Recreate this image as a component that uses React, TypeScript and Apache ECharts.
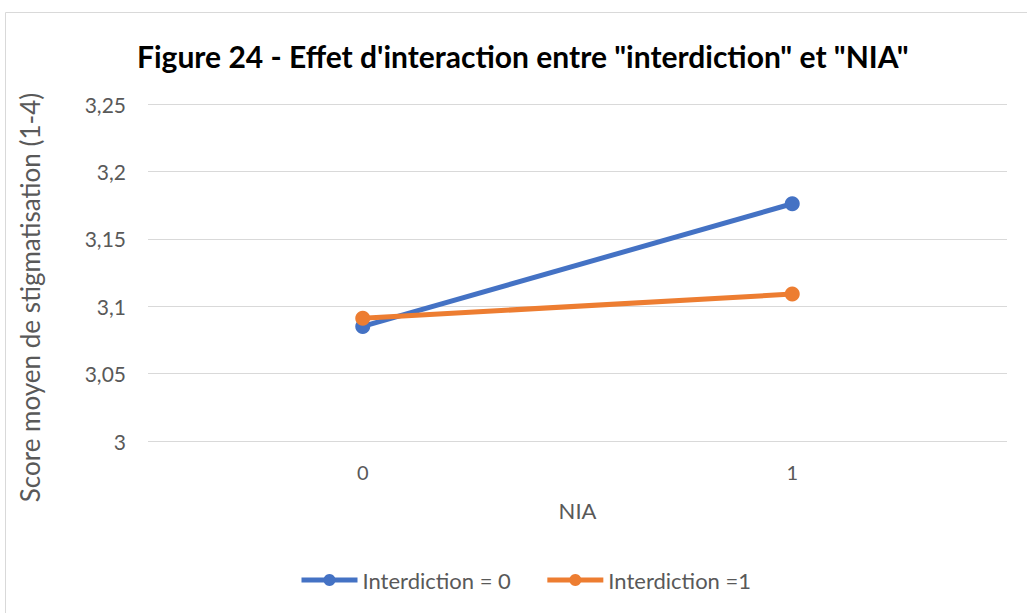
import React, { useEffect, useRef } from "react";
import * as echarts from "echarts";

const categories = ["0", "1"];
const interdiction0 = [3.085, 3.176];
const interdiction1 = [3.091, 3.109];
const seriesNames = ["Interdiction = 0", "Interdiction =1"];

export default function App() {
  const ref = useRef<HTMLDivElement>(null);
  useEffect(() => {
    const chart = echarts.init(ref.current!, null, { renderer: "svg" });
    const font = "Lato, Open Sans, sans-serif";
    chart.setOption({
      animation: false,
      backgroundColor: "#ffffff",
      title: {
        text: 'Figure 24 - Effet d\'interaction entre "interdiction" et "NIA"',
        left: 132,
        top: 36,
        textStyle: { fontFamily: "Lato, sans-serif", fontWeight: "bold", fontSize: 30, color: "#000000" },
      },
      graphic: [
        {
          type: "rect",
          shape: { x: 5.5, y: 12.5, width: 1040, height: 640 },
          style: { fill: "none", stroke: "#d9d9d9", lineWidth: 1 },
          silent: true,
        },
      ],
      grid: { left: 148, right: 20, top: 104, bottom: 172 },
      legend: {
        top: 564,
        left: 294,
        itemWidth: 56,
        itemHeight: 15,
        itemGap: 34,
        lineStyle: { width: 5 },
        textStyle: { fontFamily: font, fontSize: 22, color: "#595959" },
        data: seriesNames,
      },
      xAxis: {
        type: "category",
        data: categories,
        boundaryGap: true,
        name: "NIA",
        nameLocation: "middle",
        nameGap: 58,
        nameTextStyle: { fontFamily: font, fontSize: 22, color: "#595959" },
        axisLine: { show: false },
        axisTick: { show: false },
        axisLabel: { fontFamily: font, fontSize: 20, color: "#595959", margin: 21 },
      },
      yAxis: {
        type: "value",
        min: 3,
        max: 3.25,
        interval: 0.05,
        name: "Score moyen de stigmatisation (1-4)",
        nameLocation: "middle",
        nameGap: 105,
        nameTextStyle: { fontFamily: font, fontSize: 26, color: "#595959", padding: [0, 50, 0, 0] },
        axisLine: { show: false },
        axisTick: { show: false },
        splitLine: { lineStyle: { color: "#d9d9d9", width: 1 } },
        axisLabel: {
          fontFamily: font,
          fontSize: 21,
          color: "#595959",
          margin: 22,
          formatter: (v: number) => String(Math.round(v * 100) / 100).replace(".", ","),
        },
      },
      series: [
        {
          name: seriesNames[0],
          type: "line",
          data: interdiction0,
          symbol: "circle",
          symbolSize: 15,
          lineStyle: { width: 5, color: "#4472c4" },
          itemStyle: { color: "#4472c4" },
        },
        {
          name: seriesNames[1],
          type: "line",
          data: interdiction1,
          symbol: "circle",
          symbolSize: 15,
          lineStyle: { width: 5, color: "#ed7d31" },
          itemStyle: { color: "#ed7d31" },
        },
      ],
    });
    return () => chart.dispose();
  }, []);
  return (
    <div
      ref={ref}
      style={{ position: "fixed", left: 0, top: 0, width: 1027, height: 613 }}
    />
  );
}
